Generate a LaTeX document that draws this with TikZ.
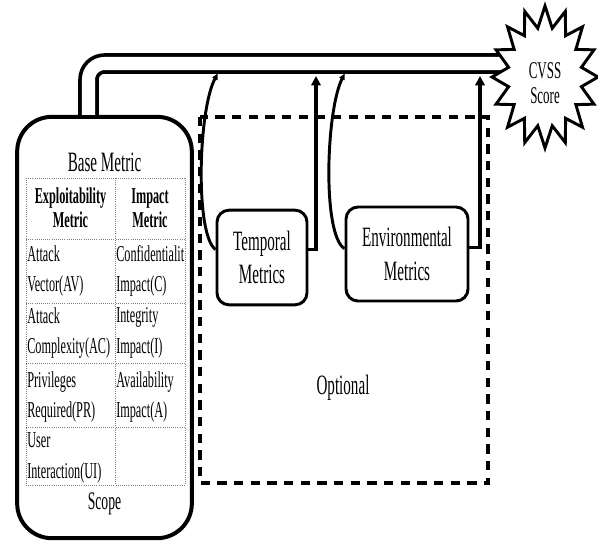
\documentclass[tikz,border=0pt]{standalone}
\usepackage{fontspec}
\setmainfont[FakeStretch=0.54]{Liberation Serif}
\usetikzlibrary{arrows.meta}
\begin{document}
\begin{tikzpicture}[x=0.75pt,y=-0.75pt,
    mbox/.style={draw,line width=2.2pt,rounded corners=9pt,align=center,font=\fontsize{21}{25}\selectfont},
    cell/.style={anchor=west,align=left,inner sep=0pt,font=\fontsize{17}{23}\selectfont},
    head/.style={align=center,inner sep=0pt,font=\bfseries\fontsize{17}{18}\selectfont},
    grid/.style={gray,densely dotted,line width=0.6pt},
    feed/.style={line width=2.2pt,-{Latex[length=5pt,width=5pt]}},
    riser/.style={line width=2.4pt,-{Triangle[length=7pt,width=7pt]}}]
  % 余白
  \useasboundingbox (0,0) rectangle (598,540);
  % オプション部分の破線の長方形
  \draw[line width=3pt,dash pattern=on 7pt off 5.5pt] (200,117) rectangle (488,483);
  \node[font=\fontsize{21}{25}\selectfont] (optional) at (343,388) {Optional};
  % 基本メトリックの角丸長方形
  \node[draw,line width=3pt,rounded corners=26pt,minimum width=131pt,minimum height=316pt] (base) at (104.5,327.5) {};
  \node[font=\fontsize{21}{25}\selectfont] (basetitle) at (104.5,162) {Base Metric};
  % 表の点線
  \foreach \y in {178,239,303,363,427,485} \draw[grid] (26,\y) -- (185,\y);
  \foreach \x in {26,115,185} \draw[grid] (\x,178) -- (\x,485);
  % 表の中身
  \node[head] (exploit) at (70.5,208) {Exploitability\\Metric};
  \node[head] (impact) at (150,208) {Impact\\Metric};
  \node[cell] (av) at (27,271) {Attack\\Vector(AV)};
  \node[cell] (ci) at (116,271) {Confidentialit\\Impact(C)};
  \node[cell] (ac) at (27,333) {Attack\\Complexity(AC)};
  \node[cell] (ii) at (116,333) {Integrity\\Impact(I)};
  \node[cell] (pr) at (27,397) {Privileges\\Required(PR)};
  \node[cell] (ai) at (116,397) {Availability\\Impact(A)};
  \node[cell] (ui) at (27,458) {User\\Interaction(UI)};
  \node[font=\fontsize{19}{22}\selectfont] (scope) at (104.5,504) {Scope};
  % 時間・環境メトリック
  \node[mbox,minimum width=67.5pt,minimum height=71pt] (temporal) at (262,257.5) {Temporal\\Metrics};
  \node[mbox,minimum width=91.5pt,minimum height=70.5pt] (environmental) at (407,254) {Environmental\\Metrics};
  % 二重線の矢印
  \coordinate (cvssin) at (512,63.5);
  \draw[line width=2.8pt,double distance=9.8pt,rounded corners=12pt] ([xshift=-12pt]base.north) |- (cvssin);
  % CVSSスコアの星
  \draw[line width=2.2pt,fill=white] (545,6)
    \foreach \k [evaluate=\k as \r using {ifthenelse(mod(\k,2)==0,1,0.7)}] in {1,...,31}
      { -- ({545+53*\r*sin(\k*360/32)},{77-71*\r*cos(\k*360/32)}) } -- cycle;
  \node[align=center,font=\fontsize{18}{19}\selectfont] (cvss) at (545,83) {CVSS\\Score};
  % 曲線と上向きの矢印
  \coordinate (tfeed) at (218,73);
  \coordinate (efeed) at (345,73);
  \draw[feed] ([yshift=6pt]temporal.west) .. controls (195,235) and (198,110) .. (tfeed);
  \draw[feed] ([yshift=4pt]environmental.west) .. controls (322,235) and (326,110) .. (efeed);
  \coordinate (trise) at (316,76);
  \coordinate (erise) at (480,76);
  \draw[riser] ([yshift=6pt]temporal.east) -| (trise);
  \draw[riser] ([yshift=5pt]environmental.east) -| (erise);
\end{tikzpicture}
\end{document}
